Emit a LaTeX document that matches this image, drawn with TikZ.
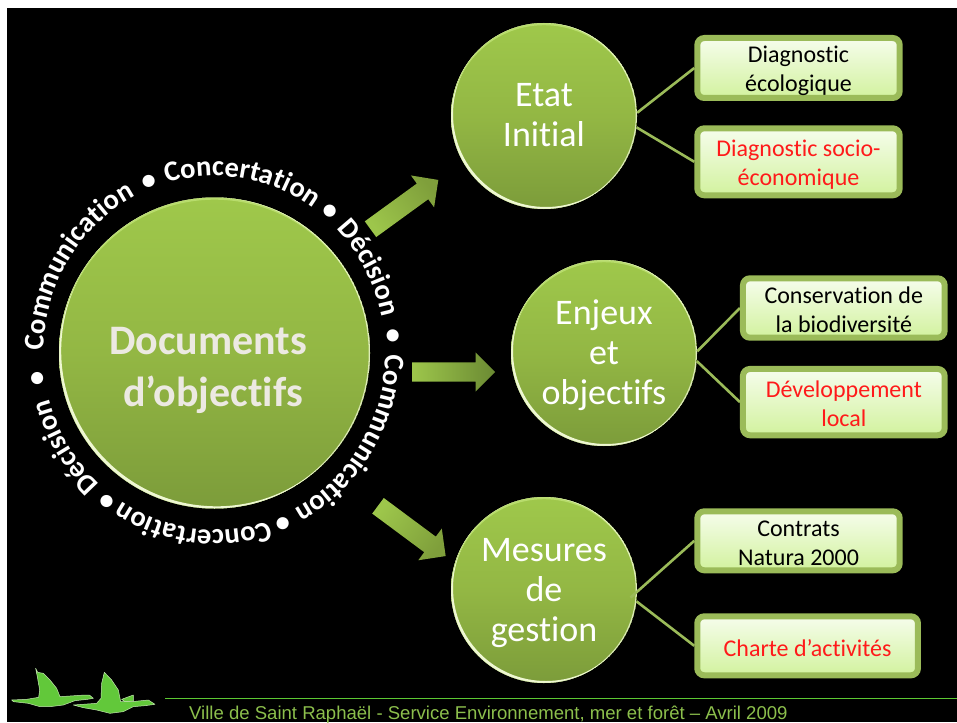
\documentclass[tikz,border=0pt]{standalone}
\usepackage{fontspec}
\usetikzlibrary{decorations.text,calc}
\setmainfont[Ligatures=NoCommon]{Carlito}
\newfontfamily\footfont{Liberation Sans}
\newcommand{\ringfont}{\bfseries\fontsize{28.6}{30}\selectfont}
\newcommand{\lowered}[1]{\rule{0pt}{#1pt}}
\definecolor{leaf}{HTML}{9BBB59}
\tikzset{
  ball/.style={circle,inner sep=0pt,minimum size=186pt,top color=A,bottom color=B,middle color=M},
  balltext/.style={align=center,text=white,font=\fontsize{36}{40}\selectfont,inner sep=0pt},
  doctext/.style={align=center,text=docgrey,font=\bfseries\fontsize{42}{52}\selectfont,inner sep=0pt},
  infobox/.style={rectangle,rounded corners=7pt,draw=leaf,line width=6pt,top color=boxtop,bottom color=boxbot,
    align=center,inner sep=0pt,font=\fontsize{24}{29}\selectfont},
  redtext/.style={text=redlabel},
  link/.style={draw=leaf,line width=2.6pt},
  bird/.style={fill=birdgreen,draw=birdedge,line width=0.5pt,line join=round},
}
\definecolor{A}{HTML}{9FC84B}
\definecolor{M}{HTML}{93B744}
\definecolor{B}{HTML}{7C9C3A}
\definecolor{arrowlight}{HTML}{9DC64B}
\definecolor{arrowmid}{HTML}{6B8A33}
\definecolor{arrowhead}{HTML}{7F9F3B}
\definecolor{docgrey}{HTML}{ECE9E2}
\definecolor{boxtop}{HTML}{F6FDEC}
\definecolor{boxbot}{HTML}{D2F29E}
\definecolor{redlabel}{HTML}{FF1A1A}
\definecolor{birdgreen}{HTML}{62C83A}
\definecolor{birdedge}{HTML}{C4E8B0}
\definecolor{footgreen}{HTML}{8CBF4C}
\definecolor{rulegreen}{HTML}{5CC832}
\definecolor{rimpale}{HTML}{EEF7D2}
\definecolor{rimtop}{HTML}{B8DC6C}
% ring text: from screen angle #1 to #2 (clockwise)
\newcommand{\ringarc}[4]{%
  \begin{scope}[shift={(doc.center)},x=1pt,y=1pt]
  \path[decorate,decoration={text along path,text={|\ringfont\color{white}|#3},text align={#4}}]
    (#1:171pt and 177pt) arc[start angle=#1,end angle=#2,x radius=171pt,y radius=177pt];
  \end{scope}}
\newcommand{\rimball}[3]{%
  \begin{scope}
    \clip (#1.center) circle[radius=#2];
    \fill[rimpale,even odd rule] (#1.center) circle[radius=#2] ($(#1.center)+(#3,-#3)$) circle[radius=#2];
    \fill[rimtop,even odd rule] (#1.center) circle[radius=#2] ($(#1.center)+(0,2.2)$) circle[radius=#2];
    \fill[rimpale,even odd rule,opacity=.8] (#1.center) circle[radius=#2] ($(#1.center)+(-1.3,0)$) circle[radius=#2];
  \end{scope}}
% block arrow from named tail: #1 tail, #2 angle, #3 length, #4.. colours
\newcommand{\blockarrow}[6]{%
  \pgfmathsetmacro\arrowshade{90+#2}%
  \begin{scope}[shift={(#1)},rotate=#2]
    \shade[left color=#4,middle color=#5,right color=#6,shading angle=\arrowshade]
      (0,-9.7) -- ({#3-19.5},-9.7) -- ({#3-19.5},-19.7) -- (#3,0) -- ({#3-19.5},19.7) -- ({#3-19.5},9.7) -- (0,9.7) -- cycle;
  \end{scope}}
\begin{document}
\begin{tikzpicture}[x=1pt,y=-1pt]
\useasboundingbox (0,0) rectangle (957,722);
\fill[white] (0,0) rectangle (957,722);
\fill[black] (7,8) rectangle (957,722);

\node[ball,minimum size=311pt] (doc) at (214.5,353) {};
\node[ball] (etat) at (544,116) {};
\node[ball] (enjeux) at (604,353) {};
\node[ball] (mesures) at (544,590) {};
\rimball{doc}{155.5}{2.2}
\rimball{etat}{93}{2}
\rimball{enjeux}{93}{2}
\rimball{mesures}{93}{2}

\node[doctext] (doclabel) at (208,370) {Documents\\\hspace*{10pt}d’objectifs};
\node[balltext] (etatlabel) at (544,115) {Etat\\Initial};
\node[balltext] (enjeuxlabel) at (604,355.5) {Enjeux\\et\\objectifs};
\node[balltext] (mesureslabel) at (544,593.5) {Mesures\\de\\gestion};

\node[infobox,minimum width=202.4pt,minimum height=60pt] (b1) at (798.5,68) {\lowered{23}Diagnostic\\écologique};
\node[infobox,redtext,minimum width=202.4pt,minimum height=67pt] (b2) at (798.5,161.8) {\lowered{22}Diagnostic socio-\\économique};
\node[infobox,minimum width=201.7pt,minimum height=59.4pt] (b3) at (843.8,308) {\lowered{20}Conservation de\\la biodiversité};
\node[infobox,redtext,minimum width=201.7pt,minimum height=66.3pt] (b4) at (843.8,402.1) {\lowered{19}Développement\\local};
\node[infobox,minimum width=202.4pt,minimum height=59pt] (b5) at (798.5,540.8) {\lowered{20}Contrats\\Natura 2000};
\node[infobox,redtext,minimum width=220.7pt,minimum height=59pt] (b6) at (807.6,645.8) {\lowered{21}Charte d’activités};

\draw[link] (etat.2) -- (b1.west);
\draw[link] (etat.-7) -- (b2.west);
\draw[link] (enjeux.1) -- (b3.west);
\draw[link] (enjeux.-5) -- (b4.west);
\draw[link,shorten <=-9pt] (mesures.-1) -- (b5.west);
\draw[link] (mesures.-7) -- (b6.west);

% block arrows
\coordinate (a1) at (370.5,229.2);
\coordinate (a2) at (412,372);
\coordinate (a3) at (378,505.8);
\blockarrow{a1}{36}{83.8}{arrowlight}{arrowmid}{arrowhead}
\blockarrow{a2}{0}{83}{arrowlight}{A!60!arrowmid}{arrowmid}
\blockarrow{a3}{-36.6}{84.3}{arrowlight}{arrowmid}{arrowhead}

% ring of words
\ringarc{184}{112.5}{Communication}{center}
\ringarc{111}{50}{Concertation}{center}
\ringarc{50}{6.4}{Décision}{center}
\ringarc{4}{-67}{Communication}{center}
\ringarc{-68.5}{-126}{Concertation}{center}
\ringarc{-128}{-169}{Décision}{center}
\ringarc{114.5}{108.5}{•}{center}
\ringarc{53}{47}{•}{center}
\ringarc{8.4}{2.4}{•}{center}
\ringarc{-64.4}{-70.4}{•}{center}
\ringarc{-123.7}{-129.7}{•}{center}
\ringarc{-169}{-175}{•}{center}

% footer
\coordinate (ruleL) at (165,698);
\coordinate (ruleR) at (957,698);
\draw[rulegreen,line width=1pt] (ruleL) -- (ruleR);
\node[anchor=base west,inner sep=0pt,text=footgreen,font=\footfont\fontsize{18.55}{20}\selectfont] (foot) at (189,719.5) {Ville de Saint Raphaël - Service Environnement, mer et forêt – Avril 2009};

% birds
\begin{scope}[shift={(0,640)},x=0.3333pt,y=-0.3333pt]
  \path[bird] (35,180) -- (80,178) -- (116,172) -- (119,150) -- (112,110) -- (107,85) -- (113,97) -- (130,100) -- (150,120) -- (170,145) -- (180,170) -- (210,168) -- (255,165) -- (268,165) -- (280,175) -- (262,178) -- (225,182) -- (190,195) -- (150,200) -- (120,200) -- (85,190) -- (40,185) -- cycle;
  \path[bird] (365,178) -- (400,165) -- (400,183) -- (375,185) -- cycle;
  \path[bird] (220,195) -- (290,190) -- (303,175) -- (305,130) -- (313,97) -- (335,120) -- (355,150) -- (362,185) -- (395,185) -- (445,180) -- (465,193) -- (435,197) -- (400,200) -- (370,215) -- (330,220) -- (290,210) -- (250,203) -- cycle;
\end{scope}
\end{tikzpicture}
\end{document}
